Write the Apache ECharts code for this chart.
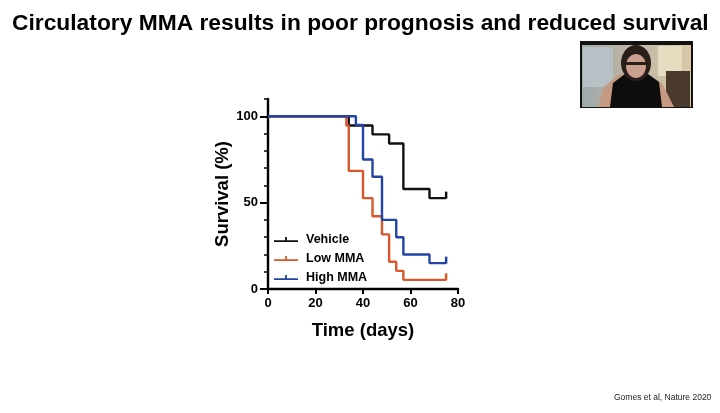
<!DOCTYPE html>
<html>
<head>
<meta charset="utf-8">
<script src="https://cdn.jsdelivr.net/npm/echarts@6/dist/echarts.min.js"></script>
<style>
  html, body { margin: 0; padding: 0; background: #fff; }
  #chart { width: 720px; height: 413px; }
</style>
</head>
<body>
<div id="chart"></div>
<script>
// survival curves (Kaplan-Meier), days vs % survival
var vehicleDays = [0, 34, 44, 51, 57, 68, 75];
var vehicleSurv = [100, 94.7, 89.5, 84.2, 57.9, 52.6, 52.6];

var lowDays = [0, 33, 34, 40, 44, 48, 51, 54, 57, 75];
var lowSurv = [100, 94.7, 68.4, 52.6, 42.1, 31.6, 15.8, 10.5, 5.3, 5.3];

var highDays = [0, 37, 40, 44, 48, 54, 57, 68, 75];
var highSurv = [100, 95, 75, 65, 40, 30, 20, 15, 15];

var seriesNames = ['Vehicle', 'Low MMA', 'High MMA'];
var seriesColors = ['#111111', '#d9572a', '#2443a6'];

var xTicks = [0, 20, 40, 60, 80];
var yLabelValues = [0, 50, 100];

var fontFam = '"Liberation Sans", Arial, sans-serif';

function toPoints(days, surv) {
    var pts = [];
    for (var i = 0; i < days.length; i++) {
        var p = { value: [days[i], surv[i]] };
        if (i == days.length - 1) {
            // censor mark at the end of the curve
            p.symbol = 'rect';
            p.symbolSize = [2.5, 7];
            p.symbolOffset = [0, -3];
        }
        pts.push(p);
    }
    return pts;
}

function makeSeries(name, color, days, surv) {
    return {
        name: name,
        type: 'line',
        step: 'end',
        xAxisIndex: 0,
        yAxisIndex: 0,
        color: color,
        symbol: 'none',
        showSymbol: true,
        lineStyle: { width: 2.4, color: color },
        itemStyle: { color: color },
        data: toPoints(days, surv),
        z: 3
    };
}

var gridBox = { left: 268, top: 99, width: 190, height: 190 };

var chart = echarts.init(document.getElementById('chart'));
var option = {
    animation: false,
    backgroundColor: '#ffffff',
    title: {
        text: 'Circulatory MMA results in poor prognosis and reduced survival',
        left: 7,
        top: 7,
        textStyle: { fontFamily: fontFam, fontWeight: 'bold', fontSize: 22.8, color: '#000' }
    },
    legend: {
        orient: 'vertical',
        left: 269,
        top: 228,
        itemGap: 6,
        itemWidth: 24,
        itemHeight: 8,
        icon: 'path://M0,3.2 L24,3.2 L24,5 L0,5 Z M11.1,0 L12.9,0 L12.9,5 L11.1,5 Z',
        data: seriesNames,
        textStyle: { fontFamily: fontFam, fontWeight: 'bold', fontSize: 12.5, color: '#000', padding: [0, 0, 0, 3] }
    },
    grid: [
        { left: gridBox.left, top: gridBox.top, width: gridBox.width, height: gridBox.height },
        { left: gridBox.left, top: gridBox.top, width: gridBox.width, height: gridBox.height }
    ],
    xAxis: [{
        gridIndex: 0,
        type: 'value',
        min: 0,
        max: 80,
        interval: 20,
        name: 'Time (days)',
        nameLocation: 'middle',
        nameGap: 32,
        nameTextStyle: { fontFamily: fontFam, fontWeight: 'bold', fontSize: 18.5, color: '#000' },
        axisLine: { show: true, lineStyle: { color: '#000', width: 2.4 } },
        axisTick: { show: true, length: 5, lineStyle: { color: '#000', width: 2 } },
        axisLabel: {
            fontFamily: fontFam, fontWeight: 'bold', fontSize: 13, color: '#000', margin: 8,
            formatter: function (v) { return xTicks.indexOf(v) >= 0 ? String(v) : ''; }
        },
        splitLine: { show: false }
    }, {
        gridIndex: 1,
        type: 'value',
        min: 0,
        max: 80,
        show: false
    }],
    yAxis: [{
        gridIndex: 0,
        type: 'value',
        min: 0,
        max: 110,
        interval: 10,
        axisLine: { show: true, lineStyle: { color: '#000', width: 2.4 } },
        axisTick: { show: true, length: 4, lineStyle: { color: '#000', width: 1.5 } },
        axisLabel: { show: false },
        splitLine: { show: false }
    }, {
        gridIndex: 1,
        type: 'value',
        min: 0,
        max: 110,
        name: 'Survival (%)',
        nameLocation: 'middle',
        nameRotate: 90,
        nameGap: 26,
        nameTextStyle: { fontFamily: fontFam, fontWeight: 'bold', fontSize: 18.5, color: '#000' },
        axisLine: { show: false },
        axisTick: { show: true, length: 8, customValues: yLabelValues, lineStyle: { color: '#000', width: 2 } },
        axisLabel: {
            fontFamily: fontFam, fontWeight: 'bold', fontSize: 13, color: '#000', margin: 10,
            customValues: yLabelValues
        },
        splitLine: { show: false }
    }],
    series: [
        makeSeries(seriesNames[0], seriesColors[0], vehicleDays, vehicleSurv),
        makeSeries(seriesNames[1], seriesColors[1], lowDays, lowSurv),
        makeSeries(seriesNames[2], seriesColors[2], highDays, highSurv)
    ],
    graphic: [
        // speaker video thumbnail (top right)
        {
            type: 'group',
            left: 580,
            top: 41,
            children: [
                { type: 'rect', shape: { x: 0, y: 0, width: 113, height: 67 }, style: { fill: '#121212' } },
                { type: 'rect', shape: { x: 2, y: 4, width: 109, height: 62 },
                  style: { fill: { type: 'linear', x: 0, y: 0, x2: 1, y2: 0,
                    colorStops: [{ offset: 0, color: '#9fa9ad' }, { offset: 0.35, color: '#b9b3a3' }, { offset: 1, color: '#d8c9a8' }] } } },
                { type: 'rect', shape: { x: 3, y: 6, width: 30, height: 40 }, style: { fill: '#b7c0c4' } },
                { type: 'rect', shape: { x: 78, y: 5, width: 24, height: 30 }, style: { fill: '#e6dcc0' } },
                { type: 'rect', shape: { x: 86, y: 30, width: 24, height: 36 }, style: { fill: '#4a3a2e' } },
                { type: 'polygon', shape: { points: [[18, 66], [24, 46], [38, 34], [52, 33], [66, 33], [82, 42], [94, 66]] }, style: { fill: '#c69a82' } },
                { type: 'polygon', shape: { points: [[30, 66], [33, 42], [45, 33], [68, 33], [79, 41], [82, 66]] }, style: { fill: '#0d0d0d' } },
                { type: 'ellipse', shape: { cx: 56, cy: 22, rx: 15, ry: 18 }, style: { fill: '#2a1d1a' } },
                { type: 'ellipse', shape: { cx: 56, cy: 25, rx: 10, ry: 12 }, style: { fill: '#caa08e' } },
                { type: 'rect', shape: { x: 46, y: 21, width: 20, height: 3 }, style: { fill: '#2a1d1a' } }
            ]
        },
        {
            type: 'text',
            left: 614,
            top: 393,
            style: { text: 'Gomes et al, Nature 2020', fill: '#222', fontFamily: fontFam, fontSize: 8.5 }
        }
    ]
};
chart.setOption(option);
</script>
</body>
</html>
